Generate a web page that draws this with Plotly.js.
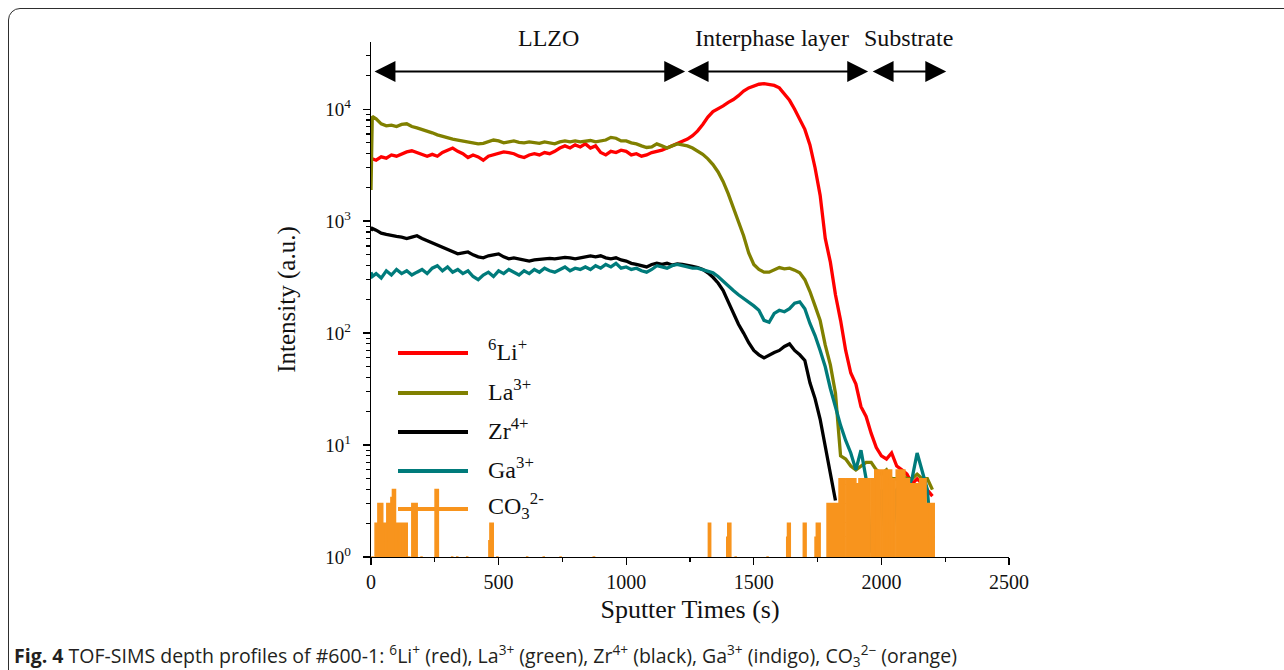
<!DOCTYPE html>
<html><head><meta charset="utf-8">
<script src="https://cdn.plot.ly/plotly-3.0.1.min.js"></script>
<style>
html,body{margin:0;padding:0;background:#fff;overflow:hidden;}
#wrap{position:relative;width:1284px;height:670px;}
#chart{width:1284px;height:670px;}
#frame{position:absolute;left:8px;top:8px;width:1300px;height:700px;border:1.5px solid #2e2e2e;border-radius:12px;pointer-events:none;}
</style></head><body>
<div id="wrap"><div id="chart"></div><div id="frame"></div></div>
<script>
// ---- data ----
const time = [0, 5,
 20,40,60,80,100,120,140,160,180,200,
 220,240,260,280,300,320,340,360,380,400,
 420,440,460,480,500,520,540,560,580,600,
 620,640,660,680,700,720,740,760,780,800,
 820,840,860,880,900,920,940,960,980,1000,
 1020,1040,1060,1080,1100,1120,1140,1160,1180,1200,
 1220,1240,1260,1280,1300,1320,1340,1360,1380,1400,
 1420,1440,1460,1480,1500,1520,1540,1560,1580,1600,
 1620,1640,1660,1680,1700,1720,1740,1760,1780,1800,
 1820,1840,1860,1880,1900,1920,1940,1960,1980,2000,
 2020,2040,2060,2080,2100,2120,2140,2160,2180,2200];

const li = [3700, 3600,
 3500,3750,3650,3900,3800,4000,4150,4250,4100,3900,
 3800,3950,3800,4100,4300,4500,4200,4000,3700,3900,
 3750,3500,3800,3900,4000,4150,4100,4000,3800,3700,
 3900,4000,3900,4100,4000,4200,4500,4700,4500,4800,
 4600,4900,4500,4700,4100,3900,4200,4100,4300,4200,
 3900,4000,3800,3900,4100,4200,4300,4500,4700,4900,
 5100,5400,5800,6400,7300,8500,9500,10000,10700,11500,
 12200,13200,14500,15500,16200,16700,16900,16700,16300,15500,
 13600,12000,10000,8000,6600,4800,3000,1700,700,430,
 220,130,70,44,35,22,18,12.7,9.5,8,
 7.5,8.5,6.5,6,5.5,4.5,5,4.5,4,3.5];

const la = [1900, 8600,
 8200,7400,7100,7200,7000,7300,7400,7000,6800,6600,
 6300,6150,5900,5700,5550,5400,5300,5200,5100,5000,
 4900,4950,5100,5300,5200,5000,5100,5200,5050,5000,
 5100,5000,4950,5100,5000,4900,5100,5200,5100,5200,
 5100,5200,5250,5100,5200,5300,5600,5500,5200,5200,
 5000,4900,4700,4550,4600,4900,4700,4500,4700,4900,
 4800,4700,4500,4250,3950,3600,3200,2750,2250,1750,
 1300,980,740,520,410,370,350,350,370,385,
 375,380,365,345,300,235,175,130,78,52,
 29,8,7.5,6.5,6,6.5,7,7,6,5.5,
 6,5,5,5.5,5,5,5.5,5,5,4];

const zr = [820, 860,
 830,780,760,740,730,720,700,720,740,700,
 670,640,610,590,560,540,510,520,530,500,
 480,470,490,500,510,480,460,470,460,450,
 440,450,455,460,465,460,470,475,470,460,
 470,480,490,480,490,470,460,470,450,440,
 420,410,400,390,410,420,410,420,405,415,
 410,405,395,385,370,345,315,280,240,190,
 150,120,100,82,70,64,60,64,67,70,
 76,80,70,64,57,36,26,17,9.5,5.8,
 3.2,null,null,null,null,null,null,null,null,null,
 null,null,null,null,null,null,null,null,null,null];

const ga = [350, 320,
 340,310,360,330,370,340,360,330,350,370,
 340,380,400,360,390,350,370,340,360,320,
 300,330,350,320,360,340,370,350,330,360,
 340,370,350,380,360,350,370,390,360,380,
 370,390,370,400,380,410,390,420,380,390,
 370,380,360,350,370,400,390,380,400,410,
 400,390,380,380,370,360,345,320,290,260,
 240,220,205,190,175,160,130,125,150,160,
 155,165,185,190,165,122,95,70,50,32,
 22,15,11,8.5,6,9,5,1.1,1.3,4,
 1.1,1.2,4,4.5,4,5,8.5,6,4,1.1];

// CO3 2- counts (step data; 0 = no counts)
const co3Time = [0,4,8,16,27,46,50,58,62,78,84,96,100,112,116,124,128,142,148,152,160,181,196,200,251,264,
 316,320,336,340,375,379,462,466,479,493,497,610,614,675,679,741,745,871,876,
 1322,1331,1394,1398,1410,1427,1431,1552,1556,1629,1632,1643,1694,1705,1740,1745,1760,
 1787,1834,1856,1862,1900,1912,1956,1962,1968,1974,1998,2003,2020,2024,2040,2044,2052,2058,2075,2092,2110,2150,2175,2189,2194,2207];
const co3Values = [0,1,0,2,3,0,2,0,3,3.4,4,0,2,0,2,0,2,0,1,0,3,0,1,0,4,0,
 1,0,1,0,1,0,1.4,2,0,1,0,1,0,1,0,1,0,1,0,
 2,0,1.5,2,0,1,0,1,0,1.5,2,0,2,0,1.5,2,0,
 3,5,0,5,4.5,5,0,5,0,6,0,6,0,6,0,5,0,6,6,5,4.5,5,3,0,3,0];

const seriesNames = ['<sup>6</sup>Li<sup>+</sup>', 'La<sup>3+</sup>', 'Zr<sup>4+</sup>', 'Ga<sup>3+</sup>', 'CO<sub>3</sub><sup>2-</sup>'];
const seriesColors = ['#ff0000', '#808000', '#000000', '#007b7b', '#f8941d'];

const xTickVals = [0, 500, 1000, 1500, 2000, 2500];
const yTickVals = [1, 10, 100, 1000, 10000];
const yTickText = ['10<sup>0</sup>', '10<sup>1</sup>', '10<sup>2</sup>', '10<sup>3</sup>', '10<sup>4</sup>'];

const regionLabels = ['LLZO', 'Interphase layer', 'Substrate'];
const regionStart = [8, 1235, 1960];
const regionEnd = [1231, 1948, 2254];
const regionLabelX = [694, 1572, 2105];
const arrowLevel = 21700;

const captionText = '<b>Fig. 4</b> TOF-SIMS depth profiles of #600-1: <sup>6</sup>Li<sup>+</sup> (red), La<sup>3+</sup> (green), Zr<sup>4+</sup> (black), Ga<sup>3+</sup> (indigo), CO<sub>3</sub><sup>2\u2212</sup> (orange)';

// ---- build figure ----
const serif = 'Liberation Serif, Times New Roman, serif';
const lineData = [li, la, zr, ga];
const traces = lineData.map((ys, i) => ({
  x: time, y: ys, type: 'scatter', mode: 'lines', name: seriesNames[i],
  line: {color: seriesColors[i], width: 3.3}, showlegend: false, connectgaps: false, hoverinfo: 'skip'
}));
traces.push({
  x: co3Time, y: co3Values.map(v => v > 0 ? v : 0.5), type: 'scatter', mode: 'lines', name: seriesNames[4],
  line: {color: seriesColors[4], width: 1.5, shape: 'hv'}, fill: 'tozeroy', fillcolor: seriesColors[4],
  showlegend: false, hoverinfo: 'skip'
});

const yMinor = [];
for (let d = 0; d <= 4; d++) for (let m = 2; m <= 9; m++) { const v = m * Math.pow(10, d); if (v < 39000) yMinor.push(v); }

const plotLeft = 371, plotRight = 1009, plotTop = 42, plotBottom = 557;
const pw = plotRight - plotLeft, ph = plotBottom - plotTop;
const px2x = p => (p - plotLeft) / pw;
const py2y = p => (plotBottom - p) / ph;

const annotations = [];
const shapes = [];
regionLabels.forEach((lab, i) => {
  annotations.push({x: regionLabelX[i], xref: 'x', y: py2y(38), yref: 'paper', text: lab, showarrow: false,
    xanchor: 'center', yanchor: 'middle', font: {family: serif, size: 24, color: '#111'}});
  annotations.push({x: regionEnd[i], y: Math.log10(arrowLevel), xref: 'x', yref: 'y',
    ax: regionStart[i], ay: Math.log10(arrowLevel), axref: 'x', ayref: 'y', text: '', showarrow: true,
    arrowhead: 2, startarrowhead: 2, arrowside: 'end+start', arrowsize: 1.9, startarrowsize: 1.9, arrowwidth: 2.2, arrowcolor: '#000',
    standoff: 0, startstandoff: 0});
});
const legendY = [353, 393, 432, 471, 509];
seriesNames.forEach((nm, i) => {
  shapes.push({type: 'line', xref: 'paper', yref: 'paper', x0: px2x(398), x1: px2x(468), y0: py2y(legendY[i]), y1: py2y(legendY[i]),
    line: {color: seriesColors[i], width: 4}});
  annotations.push({x: px2x(486), y: py2y(legendY[i] - 3), xref: 'paper', yref: 'paper', text: nm, showarrow: false,
    xanchor: 'left', yanchor: 'middle', font: {family: serif, size: 24, color: '#111'}});
});
annotations.push({x: px2x(12), y: py2y(655), xref: 'paper', yref: 'paper', text: captionText, showarrow: false,
  xanchor: 'left', yanchor: 'middle', align: 'left', font: {family: 'Open Sans, Noto Sans, sans-serif', size: 19.5, color: '#231f20'}});

const layout = {
  width: 1284, height: 670,
  margin: {l: plotLeft, r: 1284 - plotRight, t: plotTop, b: 670 - plotBottom, pad: 0},
  paper_bgcolor: '#fff', plot_bgcolor: '#fff',
  font: {family: serif, color: '#111'},
  xaxis: {range: [0, 2500], tickmode: 'array', tickvals: xTickVals, ticks: 'outside', ticklen: 7, tickwidth: 1.3, tickcolor: '#000',
    minor: {dtick: 250, tick0: 0, ticks: 'outside', ticklen: 4, tickwidth: 1.2, tickcolor: '#000'},
    showline: true, linecolor: '#000', linewidth: 1.3, showgrid: false, zeroline: false,
    tickfont: {family: serif, size: 20, color: '#111'},
    title: {text: 'Sputter Times (s)', font: {family: serif, size: 26, color: '#111'}, standoff: 7}},
  yaxis: {type: 'log', range: [0, 4.6], tickmode: 'array', tickvals: yTickVals, ticktext: yTickText,
    ticks: 'outside', ticklen: 7, tickwidth: 1.3, tickcolor: '#000',
    minor: {tickmode: 'array', tickvals: yMinor, ticks: 'outside', ticklen: 4, tickwidth: 1.1, tickcolor: '#000'},
    showline: true, linecolor: '#000', linewidth: 1.3, showgrid: false, zeroline: false,
    tickfont: {family: serif, size: 19, color: '#111'}, ticklabelstandoff: 8,
    title: {text: 'Intensity (a.u.)', font: {family: serif, size: 25, color: '#111'}, standoff: 22}},
  showlegend: false,
  annotations: annotations,
  shapes: shapes
};

Plotly.newPlot('chart', traces, layout, {staticPlot: true});
</script>
</body></html>
